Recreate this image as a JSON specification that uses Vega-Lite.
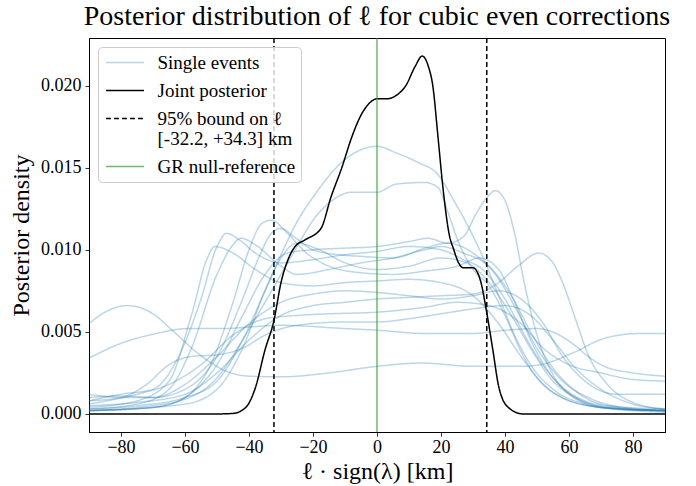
{
  "$schema": "https://vega.github.io/schema/vega-lite/v6.json",
  "width": 576,
  "height": 394,
  "autosize": {"type": "none"},
  "padding": {"left": 89, "top": 38, "right": 31, "bottom": 54},
  "title": {"text": "Posterior distribution of ℓ for cubic even corrections", "font": "Liberation Serif", "fontSize": 28, "fontWeight": "normal", "color": "black", "offset": 6, "anchor": "middle"},
  "datasets": {
    "events": [
      {"ev":"A","x":-90,"y":0.0003},{"ev":"A","x":-75,"y":0.0005},{"ev":"A","x":-60,"y":0.001},{"ev":"A","x":-50,"y":0.002},{"ev":"A","x":-42,"y":0.0045},{"ev":"A","x":-35,"y":0.0075},{"ev":"A","x":-30,"y":0.0097},{"ev":"A","x":-25,"y":0.0117},{"ev":"A","x":-20,"y":0.0132},{"ev":"A","x":-10,"y":0.0155},{"ev":"A","x":0,"y":0.0163},{"ev":"A","x":6,"y":0.0159},{"ev":"A","x":13,"y":0.0153},{"ev":"A","x":19,"y":0.0146},{"ev":"A","x":24,"y":0.013},{"ev":"A","x":28,"y":0.0116},{"ev":"A","x":33,"y":0.0096},{"ev":"A","x":38,"y":0.0072},{"ev":"A","x":43,"y":0.0048},{"ev":"A","x":48,"y":0.003},{"ev":"A","x":55,"y":0.0015},{"ev":"A","x":65,"y":0.0006},{"ev":"A","x":75,"y":0.0003},{"ev":"A","x":90,"y":0.0002},
      {"ev":"B","x":-90,"y":0.0002},{"ev":"B","x":-75,"y":0.0004},{"ev":"B","x":-60,"y":0.0009},{"ev":"B","x":-50,"y":0.0022},{"ev":"B","x":-42,"y":0.0045},{"ev":"B","x":-35,"y":0.0068},{"ev":"B","x":-30,"y":0.0085},{"ev":"B","x":-25,"y":0.0102},{"ev":"B","x":-20,"y":0.0118},{"ev":"B","x":-14,"y":0.013},{"ev":"B","x":-8,"y":0.0135},{"ev":"B","x":0,"y":0.0135},{"ev":"B","x":6,"y":0.014},{"ev":"B","x":15,"y":0.0141},{"ev":"B","x":19,"y":0.0138},{"ev":"B","x":22.5,"y":0.0121},{"ev":"B","x":25,"y":0.0107},{"ev":"B","x":30,"y":0.0088},{"ev":"B","x":35,"y":0.0078},{"ev":"B","x":40,"y":0.006},{"ev":"B","x":45,"y":0.0038},{"ev":"B","x":50,"y":0.0022},{"ev":"B","x":58,"y":0.001},{"ev":"B","x":70,"y":0.0004},{"ev":"B","x":90,"y":0.0002},
      {"ev":"C","x":-90,"y":0.0002},{"ev":"C","x":-70,"y":0.0004},{"ev":"C","x":-60,"y":0.001},{"ev":"C","x":-50,"y":0.003},{"ev":"C","x":-42,"y":0.006},{"ev":"C","x":-35,"y":0.0085},{"ev":"C","x":-28,"y":0.0098},{"ev":"C","x":-20,"y":0.01},{"ev":"C","x":-10,"y":0.0101},{"ev":"C","x":0,"y":0.0102},{"ev":"C","x":10,"y":0.0105},{"ev":"C","x":16,"y":0.0107},{"ev":"C","x":22,"y":0.0104},{"ev":"C","x":27,"y":0.0108},{"ev":"C","x":31,"y":0.0122},{"ev":"C","x":34,"y":0.0131},{"ev":"C","x":37,"y":0.0136},{"ev":"C","x":40,"y":0.013},{"ev":"C","x":43,"y":0.011},{"ev":"C","x":46,"y":0.008},{"ev":"C","x":50,"y":0.0048},{"ev":"C","x":55,"y":0.0024},{"ev":"C","x":60,"y":0.0012},{"ev":"C","x":70,"y":0.0004},{"ev":"C","x":90,"y":0.0001},
      {"ev":"D","x":-90,"y":0.0005},{"ev":"D","x":-75,"y":0.0007},{"ev":"D","x":-60,"y":0.0012},{"ev":"D","x":-50,"y":0.0025},{"ev":"D","x":-40,"y":0.0045},{"ev":"D","x":-30,"y":0.006},{"ev":"D","x":-20,"y":0.0066},{"ev":"D","x":-10,"y":0.0068},{"ev":"D","x":0,"y":0.007},{"ev":"D","x":10,"y":0.0071},{"ev":"D","x":20,"y":0.0072},{"ev":"D","x":30,"y":0.0073},{"ev":"D","x":38,"y":0.008},{"ev":"D","x":44,"y":0.009},{"ev":"D","x":50.6,"y":0.0098},{"ev":"D","x":55,"y":0.0092},{"ev":"D","x":58,"y":0.008},{"ev":"D","x":62,"y":0.0058},{"ev":"D","x":66,"y":0.0036},{"ev":"D","x":72,"y":0.0018},{"ev":"D","x":80,"y":0.0007},{"ev":"D","x":90,"y":0.0003},
      {"ev":"F","x":-90,"y":0.0055},{"ev":"F","x":-85,"y":0.0062},{"ev":"F","x":-78,"y":0.0066},{"ev":"F","x":-70,"y":0.0061},{"ev":"F","x":-64,"y":0.0051},{"ev":"F","x":-56,"y":0.0037},{"ev":"F","x":-47,"y":0.0026},{"ev":"F","x":-40,"y":0.0023},{"ev":"F","x":-30,"y":0.00226},{"ev":"F","x":-15,"y":0.0025},{"ev":"F","x":0,"y":0.0029},{"ev":"F","x":14,"y":0.0031},{"ev":"F","x":30,"y":0.0029},{"ev":"F","x":45,"y":0.0029},{"ev":"F","x":51,"y":0.003},{"ev":"F","x":61,"y":0.0037},{"ev":"F","x":71,"y":0.0046},{"ev":"F","x":82,"y":0.0049},{"ev":"F","x":90,"y":0.0049},
      {"ev":"G","x":-90,"y":0.0034},{"ev":"G","x":-80,"y":0.0043},{"ev":"G","x":-69,"y":0.0049},{"ev":"G","x":-59,"y":0.0052},{"ev":"G","x":-49,"y":0.0052},{"ev":"G","x":-30,"y":0.0054},{"ev":"G","x":-10,"y":0.0052},{"ev":"G","x":0,"y":0.0051},{"ev":"G","x":15,"y":0.0049},{"ev":"G","x":30,"y":0.0049},{"ev":"G","x":40,"y":0.0051},{"ev":"G","x":50,"y":0.0052},{"ev":"G","x":56,"y":0.0049},{"ev":"G","x":61,"y":0.0043},{"ev":"G","x":66,"y":0.0035},{"ev":"G","x":71,"y":0.0029},{"ev":"G","x":80,"y":0.0025},{"ev":"G","x":90,"y":0.0023},
      {"ev":"P1","x":-90,"y":0.0004},{"ev":"P1","x":-75,"y":0.0008},{"ev":"P1","x":-65,"y":0.002},{"ev":"P1","x":-58,"y":0.006},{"ev":"P1","x":-53,"y":0.0095},{"ev":"P1","x":-50.6,"y":0.0102},{"ev":"P1","x":-45,"y":0.0098},{"ev":"P1","x":-38,"y":0.0088},{"ev":"P1","x":-30,"y":0.008},{"ev":"P1","x":-20,"y":0.0078},{"ev":"P1","x":-10,"y":0.008},{"ev":"P1","x":0,"y":0.0081},{"ev":"P1","x":10,"y":0.0082},{"ev":"P1","x":20,"y":0.008},{"ev":"P1","x":30,"y":0.0072},{"ev":"P1","x":38,"y":0.0055},{"ev":"P1","x":45,"y":0.0035},{"ev":"P1","x":52,"y":0.0018},{"ev":"P1","x":60,"y":0.0008},{"ev":"P1","x":75,"y":0.0003},{"ev":"P1","x":90,"y":0.0002},
      {"ev":"P2","x":-90,"y":0.0008},{"ev":"P2","x":-80,"y":0.0012},{"ev":"P2","x":-70,"y":0.0015},{"ev":"P2","x":-62,"y":0.0035},{"ev":"P2","x":-55,"y":0.007},{"ev":"P2","x":-50,"y":0.0102},{"ev":"P2","x":-47,"y":0.011},{"ev":"P2","x":-43,"y":0.0106},{"ev":"P2","x":-38,"y":0.0098},{"ev":"P2","x":-30,"y":0.0092},{"ev":"P2","x":-20,"y":0.0094},{"ev":"P2","x":-10,"y":0.0097},{"ev":"P2","x":0,"y":0.0099},{"ev":"P2","x":10,"y":0.0102},{"ev":"P2","x":20,"y":0.01},{"ev":"P2","x":27,"y":0.0094},{"ev":"P2","x":33,"y":0.0088},{"ev":"P2","x":40,"y":0.007},{"ev":"P2","x":45,"y":0.0052},{"ev":"P2","x":50,"y":0.0035},{"ev":"P2","x":57,"y":0.0018},{"ev":"P2","x":65,"y":0.0008},{"ev":"P2","x":75,"y":0.0004},{"ev":"P2","x":90,"y":0.0002},
      {"ev":"P3","x":-90,"y":0.0003},{"ev":"P3","x":-75,"y":0.0006},{"ev":"P3","x":-65,"y":0.0015},{"ev":"P3","x":-58,"y":0.004},{"ev":"P3","x":-50,"y":0.0085},{"ev":"P3","x":-45,"y":0.0103},{"ev":"P3","x":-42.5,"y":0.0107},{"ev":"P3","x":-38,"y":0.0103},{"ev":"P3","x":-30,"y":0.009},{"ev":"P3","x":-25,"y":0.0085},{"ev":"P3","x":-15,"y":0.0088},{"ev":"P3","x":-5,"y":0.0092},{"ev":"P3","x":5,"y":0.0095},{"ev":"P3","x":15,"y":0.01},{"ev":"P3","x":20,"y":0.0102},{"ev":"P3","x":27,"y":0.0098},{"ev":"P3","x":35,"y":0.009},{"ev":"P3","x":42,"y":0.0072},{"ev":"P3","x":48,"y":0.005},{"ev":"P3","x":55,"y":0.0028},{"ev":"P3","x":62,"y":0.0014},{"ev":"P3","x":70,"y":0.0006},{"ev":"P3","x":90,"y":0.0002},
      {"ev":"P4","x":-90,"y":0.0002},{"ev":"P4","x":-70,"y":0.0004},{"ev":"P4","x":-60,"y":0.001},{"ev":"P4","x":-52,"y":0.003},{"ev":"P4","x":-45,"y":0.0068},{"ev":"P4","x":-40,"y":0.01},{"ev":"P4","x":-36,"y":0.0116},{"ev":"P4","x":-33,"y":0.0118},{"ev":"P4","x":-28,"y":0.011},{"ev":"P4","x":-22,"y":0.0098},{"ev":"P4","x":-15,"y":0.009},{"ev":"P4","x":-5,"y":0.0086},{"ev":"P4","x":5,"y":0.0085},{"ev":"P4","x":15,"y":0.0087},{"ev":"P4","x":25,"y":0.009},{"ev":"P4","x":32,"y":0.0095},{"ev":"P4","x":38,"y":0.0088},{"ev":"P4","x":43,"y":0.0068},{"ev":"P4","x":48,"y":0.0045},{"ev":"P4","x":55,"y":0.0022},{"ev":"P4","x":62,"y":0.001},{"ev":"P4","x":72,"y":0.0004},{"ev":"P4","x":90,"y":0.0002},
      {"ev":"P5","x":-90,"y":0.001},{"ev":"P5","x":-80,"y":0.0011},{"ev":"P5","x":-70,"y":0.001},{"ev":"P5","x":-60,"y":0.0015},{"ev":"P5","x":-50,"y":0.0035},{"ev":"P5","x":-42,"y":0.007},{"ev":"P5","x":-37,"y":0.0095},{"ev":"P5","x":-33,"y":0.011},{"ev":"P5","x":-30,"y":0.0113},{"ev":"P5","x":-26,"y":0.0108},{"ev":"P5","x":-20,"y":0.01},{"ev":"P5","x":-12,"y":0.0097},{"ev":"P5","x":-5,"y":0.0096},{"ev":"P5","x":5,"y":0.0095},{"ev":"P5","x":15,"y":0.0101},{"ev":"P5","x":22,"y":0.0104},{"ev":"P5","x":30,"y":0.0098},{"ev":"P5","x":37,"y":0.0085},{"ev":"P5","x":44,"y":0.0062},{"ev":"P5","x":50,"y":0.004},{"ev":"P5","x":58,"y":0.002},{"ev":"P5","x":66,"y":0.001},{"ev":"P5","x":78,"y":0.0004},{"ev":"P5","x":90,"y":0.0003},
      {"ev":"P6","x":-90,"y":0.0002},{"ev":"P6","x":-60,"y":0.0006},{"ev":"P6","x":-50,"y":0.0015},{"ev":"P6","x":-42,"y":0.004},{"ev":"P6","x":-35,"y":0.0075},{"ev":"P6","x":-30,"y":0.0095},{"ev":"P6","x":-25,"y":0.0104},{"ev":"P6","x":-18,"y":0.01},{"ev":"P6","x":-10,"y":0.0092},{"ev":"P6","x":0,"y":0.0088},{"ev":"P6","x":10,"y":0.009},{"ev":"P6","x":20,"y":0.0095},{"ev":"P6","x":28,"y":0.0092},{"ev":"P6","x":35,"y":0.008},{"ev":"P6","x":42,"y":0.006},{"ev":"P6","x":48,"y":0.004},{"ev":"P6","x":55,"y":0.002},{"ev":"P6","x":62,"y":0.001},{"ev":"P6","x":72,"y":0.0004},{"ev":"P6","x":90,"y":0.0002},
      {"ev":"Q1","x":-90,"y":0.0012},{"ev":"Q1","x":-80,"y":0.001},{"ev":"Q1","x":-70,"y":0.001},{"ev":"Q1","x":-60,"y":0.0018},{"ev":"Q1","x":-50,"y":0.0035},{"ev":"Q1","x":-40,"y":0.0055},{"ev":"Q1","x":-30,"y":0.0068},{"ev":"Q1","x":-20,"y":0.0073},{"ev":"Q1","x":-10,"y":0.0075},{"ev":"Q1","x":0,"y":0.0074},{"ev":"Q1","x":10,"y":0.0072},{"ev":"Q1","x":20,"y":0.007},{"ev":"Q1","x":30,"y":0.0072},{"ev":"Q1","x":38,"y":0.0075},{"ev":"Q1","x":45,"y":0.007},{"ev":"Q1","x":52,"y":0.0055},{"ev":"Q1","x":58,"y":0.0035},{"ev":"Q1","x":65,"y":0.002},{"ev":"Q1","x":75,"y":0.0012},{"ev":"Q1","x":90,"y":0.0012},
      {"ev":"Q2","x":-90,"y":0.0006},{"ev":"Q2","x":-75,"y":0.0012},{"ev":"Q2","x":-65,"y":0.0018},{"ev":"Q2","x":-55,"y":0.003},{"ev":"Q2","x":-45,"y":0.0048},{"ev":"Q2","x":-35,"y":0.0058},{"ev":"Q2","x":-25,"y":0.006},{"ev":"Q2","x":-15,"y":0.0061},{"ev":"Q2","x":0,"y":0.0062},{"ev":"Q2","x":15,"y":0.0065},{"ev":"Q2","x":25,"y":0.0068},{"ev":"Q2","x":35,"y":0.0066},{"ev":"Q2","x":45,"y":0.0055},{"ev":"Q2","x":52,"y":0.004},{"ev":"Q2","x":60,"y":0.003},{"ev":"Q2","x":70,"y":0.0025},{"ev":"Q2","x":80,"y":0.0021},{"ev":"Q2","x":90,"y":0.002},
      {"ev":"Q3","x":-90,"y":0.0008},{"ev":"Q3","x":-80,"y":0.001},{"ev":"Q3","x":-72,"y":0.0018},{"ev":"Q3","x":-65,"y":0.003},{"ev":"Q3","x":-58,"y":0.0035},{"ev":"Q3","x":-50,"y":0.0036},{"ev":"Q3","x":-42,"y":0.004},{"ev":"Q3","x":-35,"y":0.0048},{"ev":"Q3","x":-25,"y":0.0054},{"ev":"Q3","x":-10,"y":0.0056},{"ev":"Q3","x":0,"y":0.0056},{"ev":"Q3","x":10,"y":0.0058},{"ev":"Q3","x":20,"y":0.0061},{"ev":"Q3","x":30,"y":0.0064},{"ev":"Q3","x":40,"y":0.0066},{"ev":"Q3","x":48,"y":0.006},{"ev":"Q3","x":55,"y":0.0045},{"ev":"Q3","x":62,"y":0.0028},{"ev":"Q3","x":70,"y":0.0015},{"ev":"Q3","x":80,"y":0.0006},{"ev":"Q3","x":90,"y":0.0003}
    ],
    "joint": [
      {"x":-90,"y":0},{"x":-50,"y":0},{"x":-45,"y":0.00003},{"x":-41,"y":0.0004},{"x":-38,"y":0.0016},{"x":-35,"y":0.0039},{"x":-32.2,"y":0.0057},{"x":-30,"y":0.008},{"x":-27.8,"y":0.0094},{"x":-25.6,"y":0.0102},{"x":-22.5,"y":0.0106},{"x":-17.5,"y":0.0113},{"x":-14.4,"y":0.0132},{"x":-11,"y":0.015},{"x":-8,"y":0.0168},{"x":-5,"y":0.0182},{"x":-2,"y":0.019},{"x":0,"y":0.0192},{"x":3,"y":0.0192},{"x":6,"y":0.0194},{"x":9,"y":0.02},{"x":12,"y":0.0212},{"x":14.1,"y":0.0218},{"x":16,"y":0.0212},{"x":17.5,"y":0.0199},{"x":19,"y":0.017},{"x":20.6,"y":0.0138},{"x":22.5,"y":0.011},{"x":24,"y":0.01},{"x":25.5,"y":0.0092},{"x":27,"y":0.0089},{"x":30,"y":0.0089},{"x":32.5,"y":0.008},{"x":34,"y":0.0065},{"x":36.2,"y":0.0039},{"x":38,"y":0.0017},{"x":41,"y":0.0004},{"x":45.6,"y":0},{"x":90,"y":0}
    ],
    "rules": [
      {"x":-32.2,"kind":"95% bound on ℓ\n[-32.2, +34.3] km"},
      {"x":34.3,"kind":"95% bound on ℓ\n[-32.2, +34.3] km"},
      {"x":0,"kind":"GR null-reference"}
    ]
  },
  "layer": [
    {
      "data": {"name": "events"},
      "mark": {"type": "line", "interpolate": "monotone", "strokeWidth": 1.5, "clip": true},
      "encoding": {
        "x": {"field": "x", "type": "quantitative"},
        "y": {"field": "y", "type": "quantitative"},
        "detail": {"field": "ev"},
        "color": {"datum": "Single events"},
        "strokeDash": {"datum": "Single events"},
        "opacity": {"datum": "Single events"}
      }
    },
    {
      "data": {"name": "joint"},
      "mark": {"type": "line", "interpolate": "monotone", "strokeWidth": 1.5, "clip": true},
      "encoding": {
        "x": {"field": "x", "type": "quantitative"},
        "y": {"field": "y", "type": "quantitative"},
        "color": {"datum": "Joint posterior"},
        "strokeDash": {"datum": "Joint posterior"},
        "opacity": {"datum": "Joint posterior"}
      }
    },
    {
      "data": {"name": "rules"},
      "mark": {"type": "rule", "strokeWidth": 1.5},
      "encoding": {
        "x": {"field": "x", "type": "quantitative"},
        "color": {"field": "kind", "type": "nominal"},
        "strokeDash": {"field": "kind", "type": "nominal"},
        "opacity": {"field": "kind", "type": "nominal"}
      }
    }
  ],
  "resolve": {"scale": {"color": "shared", "strokeDash": "shared", "opacity": "shared"}},
  "encoding": {
    "x": {
      "type": "quantitative",
      "scale": {"domain": [-90, 90], "nice": false, "zero": false},
      "axis": {"values": [-80, -60, -40, -20, 0, 20, 40, 60, 80], "title": "ℓ · sign(λ) [km]"}
    },
    "y": {
      "type": "quantitative",
      "scale": {"domain": [-0.0011, 0.0229], "nice": false, "zero": false},
      "axis": {"values": [0, 0.005, 0.01, 0.015, 0.02], "format": ".3f", "title": "Posterior density"}
    },
    "color": {
      "type": "nominal",
      "scale": {"domain": ["Single events", "Joint posterior", "95% bound on ℓ\n[-32.2, +34.3] km", "GR null-reference"], "range": ["#1f77b4", "#000000", "#000000", "#2ca02c"]},
      "legend": {"title": null}
    },
    "strokeDash": {
      "type": "nominal",
      "scale": {"domain": ["Single events", "Joint posterior", "95% bound on ℓ\n[-32.2, +34.3] km", "GR null-reference"], "range": [[1, 0], [1, 0], [5, 3], [1, 0]]},
      "legend": {"title": null}
    },
    "opacity": {
      "type": "nominal",
      "scale": {"type": "ordinal", "domain": ["Single events", "Joint posterior", "95% bound on ℓ\n[-32.2, +34.3] km", "GR null-reference"], "range": [0.3, 1, 1, 0.7]},
      "legend": {"title": null}
    }
  },
  "config": {
    "view": {"stroke": "black", "strokeWidth": 1},
    "style": {"guide-label": {"lineBreak": "\n", "lineHeight": 20}},
    "axis": {
      "grid": false,
      "domainColor": "black",
      "domainWidth": 1,
      "tickColor": "black",
      "tickSize": 4,
      "tickWidth": 0.8,
      "labelFont": "Liberation Serif",
      "labelFontSize": 18,
      "labelColor": "black",
      "titleFont": "Liberation Serif",
      "titleFontSize": 24,
      "titleFontWeight": "normal",
      "titleColor": "black"
    },
    "axisX": {"labelPadding": 2, "titlePadding": 3},
    "axisY": {"labelPadding": 4, "titlePadding": 7},
    "legend": {
      "orient": "top-left",
      "offset": 9,
      "padding": 5,
      "fillColor": "rgba(255,255,255,0.8)",
      "strokeColor": "#cccccc",
      "cornerRadius": 4,
      "symbolType": "M-2,0H2",
      "symbolSize": 361,
      "symbolOffset": 11.5,
      "symbolStrokeWidth": 1.5,
      "labelFont": "Liberation Serif",
      "labelFontSize": 19,
      "labelColor": "black",
      "labelOffset": 22,
      "rowPadding": 7,
      "labelLimit": 300
    }
  }
}
